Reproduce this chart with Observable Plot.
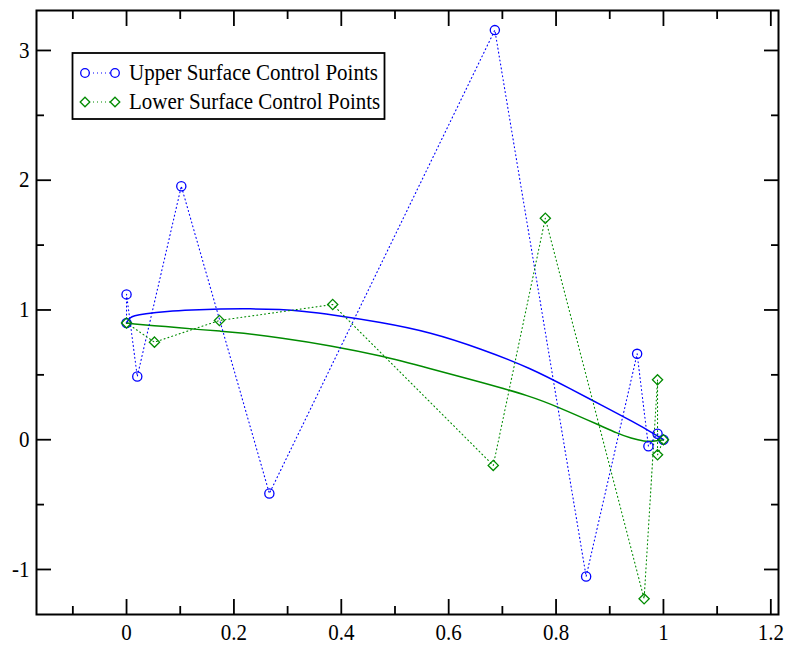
<!DOCTYPE html>
<html>
<head>
<meta charset="utf-8">
<script src="https://cdn.jsdelivr.net/npm/d3@7"></script>
<script src="https://cdn.jsdelivr.net/npm/@observablehq/plot@0.6"></script>
<style>
  body { margin: 0; background: white; }
  #wrap { position: relative; width: 787px; height: 648px; }
  #legend { position: absolute; left: 0; top: 0; pointer-events: none; }
</style>
</head>
<body>
<div id="wrap"></div>
<script>
// Control points (upper surface)
const upperX = [0, 0, 0.02, 0.102, 0.266, 0.686, 0.856, 0.951, 0.972, 0.989, 1.0];
const upperY = [0.9, 1.12, 0.487, 1.954, -0.414, 3.157, -1.054, 0.662, -0.05, 0.046, 0.0];
// Control points (lower surface)
const lowerX = [0, 0.052, 0.173, 0.384, 0.683, 0.78, 0.964, 0.989, 0.989, 1.0];
const lowerY = [0.9, 0.752, 0.919, 1.042, -0.198, 1.707, -1.226, 0.462, -0.116, 0.0];
// Upper surface curve (solid)
const curveUX = [0, 0.002, 0.006, 0.0137, 0.032, 0.076, 0.12, 0.175, 0.23, 0.287, 0.33, 0.38, 0.473, 0.566, 0.66, 0.753, 0.83, 0.883, 0.945, 0.9825, 1.0];
const curveUY = [0.9, 0.915, 0.94, 0.955, 0.97, 0.99, 1.0, 1.008, 1.01, 1.004, 0.99, 0.965, 0.906, 0.829, 0.701, 0.552, 0.385, 0.27, 0.135, 0.046, 0.0];
// Lower surface curve (solid)
const curveLX = [0, 0.01, 0.05, 0.1, 0.138, 0.175, 0.212, 0.287, 0.38, 0.473, 0.566, 0.66, 0.753, 0.802, 0.883, 0.914, 0.94, 0.964, 0.985, 1.0];
const curveLY = [0.9, 0.893, 0.88, 0.862, 0.848, 0.837, 0.824, 0.786, 0.726, 0.649, 0.547, 0.444, 0.335, 0.255, 0.108, 0.05, 0.01, -0.014, -0.01, 0.0];
// Ticks
const xMajor = [0, 0.2, 0.4, 0.6, 0.8, 1, 1.2];
const xMinor = [-0.1, 0.1, 0.3, 0.5, 0.7, 0.9, 1.1];
const yMajor = [-1, 0, 1, 2, 3];
const yMinor = [-0.5, 0.5, 1.5, 2.5];
const seriesNames = ["Upper Surface Control Points", "Lower Surface Control Points"];

const BLUE = "#0000ff", GREEN = "#008b00";
const zip = (xs, ys) => xs.map((x, i) => ({x, y: ys[i]}));
const upper = zip(upperX, upperY), lower = zip(lowerX, lowerY);
const cu = zip(curveUX, curveUY), cl = zip(curveLX, curveLY);
const fmt = d => String(d);
const tw = 1.8;
const DOTS = "1,3";

const chart = Plot.plot({
  width: 787, height: 648,
  marginLeft: 36, marginRight: 9, marginTop: 10, marginBottom: 34,
  style: {fontFamily: "'Liberation Serif', 'Times New Roman', serif", fontSize: "21px", background: "white", color: "black"},
  x: {domain: [-0.1677, 1.2143]},
  y: {domain: [-1.347, 3.308]},
  marks: [
    Plot.line(cu, {x: "x", y: "y", stroke: BLUE, strokeWidth: 1.5, curve: "basis"}),
    Plot.line(cl, {x: "x", y: "y", stroke: GREEN, strokeWidth: 1.5, curve: "basis"}),
    Plot.line(upper, {x: "x", y: "y", stroke: BLUE, strokeWidth: 1.1, strokeDasharray: DOTS}),
    Plot.line(lower, {x: "x", y: "y", stroke: GREEN, strokeWidth: 1.1, strokeDasharray: DOTS}),
    Plot.dot(upper, {x: "x", y: "y", symbol: "circle", r: 4.6, stroke: BLUE, strokeWidth: 1.3, fill: "none"}),
    Plot.dot(lower, {x: "x", y: "y", symbol: "diamond2", r: 4.6, stroke: GREEN, strokeWidth: 1.3, fill: "none"}),
    // tick labels
    Plot.axisX(xMajor, {anchor: "bottom", tickSize: 0, tickPadding: 9, tickFormat: fmt, label: null}),
    Plot.axisY(yMajor, {anchor: "left", tickSize: 0, tickPadding: 7, tickFormat: fmt, label: null}),
    // inward tick marks on all four sides
    Plot.axisX(xMajor, {anchor: "bottom", tickSize: -15, tickFormat: () => "", label: null, strokeWidth: tw}),
    Plot.axisX(xMinor, {anchor: "bottom", tickSize: -8, tickFormat: () => "", label: null, strokeWidth: tw}),
    Plot.axisX(xMajor, {anchor: "top", tickSize: -15, tickFormat: () => "", label: null, strokeWidth: tw}),
    Plot.axisX(xMinor, {anchor: "top", tickSize: -8, tickFormat: () => "", label: null, strokeWidth: tw}),
    Plot.axisY(yMajor, {anchor: "left", tickSize: -15, tickFormat: () => "", label: null, strokeWidth: tw}),
    Plot.axisY(yMinor, {anchor: "left", tickSize: -8, tickFormat: () => "", label: null, strokeWidth: tw}),
    Plot.axisY(yMajor, {anchor: "right", tickSize: -15, tickFormat: () => "", label: null, strokeWidth: tw}),
    Plot.axisY(yMinor, {anchor: "right", tickSize: -8, tickFormat: () => "", label: null, strokeWidth: tw}),
    Plot.frame({stroke: "black", strokeWidth: 2})
  ]
});
// slightly taller glyphs, as in the reference
d3.select(chart).selectAll("text").each(function() {
  const t = this.getAttribute("transform") || "";
  this.setAttribute("transform", t + " scale(1,1.08)");
});
const wrap = document.getElementById("wrap");
wrap.appendChild(chart);

// Legend overlay
const lg = d3.select(wrap).append("svg").attr("id", "legend").attr("width", 787).attr("height", 648)
  .style("font-family", "'Liberation Serif', 'Times New Roman', serif").style("font-size", "21px");
lg.append("rect").attr("x", 72.5).attr("y", 53).attr("width", 312).attr("height", 66)
  .attr("fill", "white").attr("stroke", "black").attr("stroke-width", 1.8);
const rows = [
  {name: seriesNames[0], color: BLUE, sym: "circle", cy: 73, base: 79.5},
  {name: seriesNames[1], color: GREEN, sym: "diamond", cy: 102, base: 108.5}
];
rows.forEach(r => {
  lg.append("line").attr("x1", 85).attr("x2", 115).attr("y1", r.cy).attr("y2", r.cy)
    .attr("stroke", r.color).attr("stroke-width", 1.1).attr("stroke-dasharray", DOTS);
  [85, 115].forEach(cx => {
    if (r.sym === "circle") {
      lg.append("circle").attr("cx", cx).attr("cy", r.cy).attr("r", 4.3)
        .attr("fill", "white").attr("stroke", r.color).attr("stroke-width", 1.3);
    } else {
      const s = 4.8;
      lg.append("path").attr("d", `M${cx},${r.cy - s}L${cx + s},${r.cy}L${cx},${r.cy + s}L${cx - s},${r.cy}Z`)
        .attr("fill", "white").attr("stroke", r.color).attr("stroke-width", 1.3);
    }
  });
  lg.append("text").attr("transform", `translate(129,${r.base}) scale(1,1.08)`).attr("fill", "black").text(r.name);
});
</script>
</body>
</html>
